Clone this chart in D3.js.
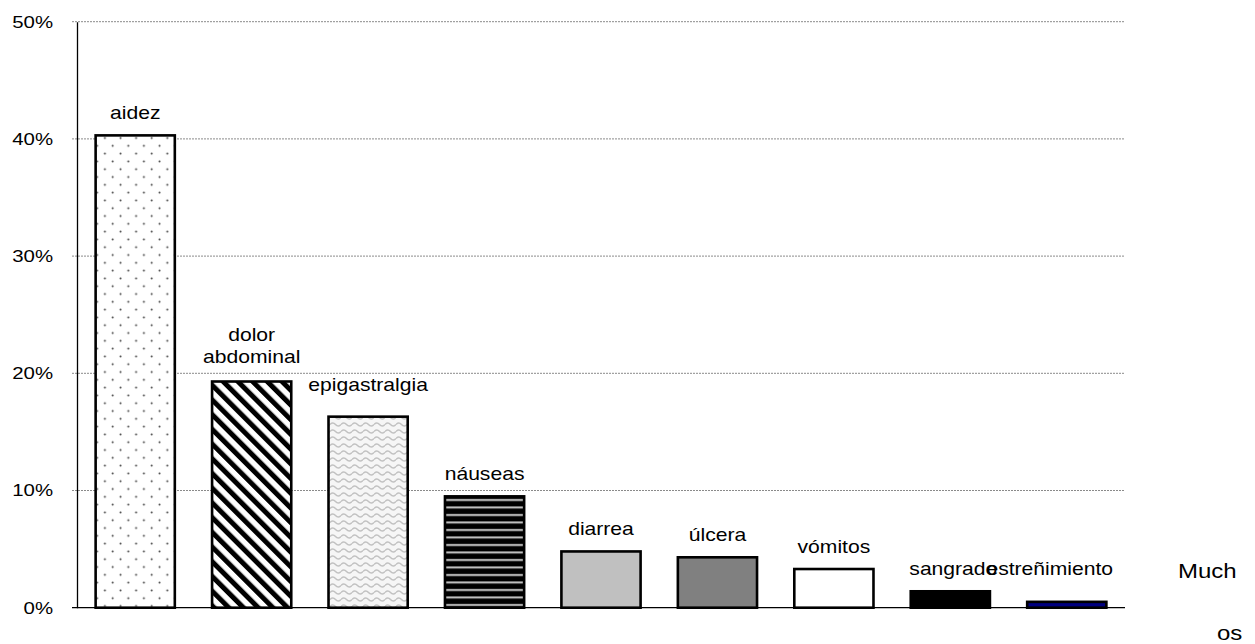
<!DOCTYPE html>
<html>
<head>
<meta charset="utf-8">
<script src="https://cdn.jsdelivr.net/npm/d3@7"></script>
<style>
  html, body { margin: 0; padding: 0; background: #fff; }
  svg { display: block; font-family: "Liberation Sans", Arial, sans-serif; }
</style>
</head>
<body>
<svg id="chart" width="1255" height="644"></svg>
<script>
// Symptom frequencies (share of patients)
const categories = ["aidez", "dolor abdominal", "epigastralgia", "náuseas", "diarrea",
                    "úlcera", "vómitos", "sangrado", "estreñimiento"];
const values = [0.403, 0.193, 0.163, 0.095, 0.048, 0.043, 0.033, 0.014, 0.005];
const yTicks = [0, 0.1, 0.2, 0.3, 0.4, 0.5];
const labelLines = [["aidez"], ["dolor", "abdominal"], ["epigastralgia"], ["náuseas"], ["diarrea"],
                    ["úlcera"], ["vómitos"], ["sangrado"], ["estreñimiento"]];
const sideTitle = ["Much", "os"];

const svg = d3.select("#chart");
const plotLeft = 77, plotRight = 1125, plotTop = 21.7, plotBottom = 607.7;
const STRETCH = 1.2; // glyphs are drawn slightly wide

const x = d3.scaleBand().domain(categories).range([plotLeft, plotRight])
  .paddingInner(0.32).paddingOuter(0.16);
const y = d3.scaleLinear().domain([0, 0.5]).range([plotBottom, plotTop]);

// ---- fill patterns ----
const defs = svg.append("defs");

const dots = defs.append("pattern").attr("id", "p-dots")
  .attr("patternUnits", "userSpaceOnUse").attr("width", 15.6).attr("height", 15.6)
  .attr("x", 0).attr("y", 2);
dots.append("rect").attr("width", 15.6).attr("height", 15.6).attr("fill", "#fff");
[[3.5, 3.5], [11.3, 11.3]].forEach(([cx, cy]) =>
  dots.append("circle").attr("cx", cx).attr("cy", cy).attr("r", 1).attr("fill", "#444"));

// stripes running top-left to bottom-right
const diag = defs.append("pattern").attr("id", "p-diag")
  .attr("patternUnits", "userSpaceOnUse").attr("width", 10.4).attr("height", 10.4)
  .attr("patternTransform", "rotate(-45)");
diag.append("rect").attr("width", 10.4).attr("height", 10.4).attr("fill", "#fff");
diag.append("rect").attr("width", 5).attr("height", 10.4).attr("fill", "#000");

const wave = defs.append("pattern").attr("id", "p-wave")
  .attr("patternUnits", "userSpaceOnUse").attr("width", 11).attr("height", 7);
wave.append("rect").attr("width", 11).attr("height", 7).attr("fill", "#f6f6f6");
wave.append("path").attr("d", "M0,4.5 Q2.75,1.5 5.5,4.5 T11,4.5")
  .attr("fill", "none").attr("stroke", "#c2c2c2").attr("stroke-width", 1.6);

const horiz = defs.append("pattern").attr("id", "p-horiz")
  .attr("patternUnits", "userSpaceOnUse").attr("width", 10).attr("height", 7.5)
  .attr("y", 1);
horiz.append("rect").attr("width", 10).attr("height", 7.5).attr("fill", "#000");
horiz.append("rect").attr("y", 3).attr("width", 10).attr("height", 2).attr("fill", "#c8c8c8");

const fills = ["url(#p-dots)", "url(#p-diag)", "url(#p-wave)", "url(#p-horiz)",
               "#c0c0c0", "#808080", "#ffffff", "#000000", "#000080"];

// ---- gridlines ----
svg.append("g").selectAll("line").data(yTicks.filter(t => t > 0)).join("line")
  .attr("x1", plotLeft - 5).attr("x2", plotRight)
  .attr("y1", d => y(d)).attr("y2", d => y(d))
  .attr("stroke", "#8a8a8a").attr("stroke-width", 1).attr("stroke-dasharray", "2,1");

// ---- y axis ----
const yAxis = svg.append("g").attr("transform", `translate(${plotLeft},0)`)
  .call(d3.axisLeft(y).tickValues(yTicks).tickFormat(d3.format(".0%"))
    .tickSizeInner(0).tickSizeOuter(0).tickPadding(20));
yAxis.select(".domain").attr("stroke", "#000").attr("stroke-width", 1.3);
yAxis.selectAll("text").attr("font-size", 17).attr("fill", "#000")
  .attr("font-family", "Liberation Sans, Arial, sans-serif")
  .attr("transform", `scale(${STRETCH},1)`);

// ---- bars ----
svg.append("g").selectAll("rect").data(categories).join("rect")
  .attr("x", d => x(d)).attr("width", x.bandwidth())
  .attr("y", (d, i) => y(values[i])).attr("height", (d, i) => y(0) - y(values[i]))
  .attr("fill", (d, i) => fills[i])
  .attr("stroke", "#000").attr("stroke-width", 2.6);

// x baseline
svg.append("line").attr("x1", plotLeft - 5).attr("x2", plotRight)
  .attr("y1", y(0)).attr("y2", y(0)).attr("stroke", "#000").attr("stroke-width", 1.3);

// ---- bar labels ----
const lift = { "epigastralgia": 10, "estreñimiento": 11, "dolor abdominal": 3 };
const shiftX = { "estreñimiento": -17, "sangrado": 3 };
const lineH = 22;
const lab = svg.append("g").attr("font-size", 17.6).attr("fill", "#000");
categories.forEach((c, i) => {
  const lines = labelLines[i];
  const cx = x(c) + x.bandwidth() / 2 + (shiftX[c] || 0);
  const base = y(values[i]) - 16 - (lift[c] || 0);
  lines.forEach((t, k) => {
    lab.append("text")
      .attr("transform", `translate(${cx},${base - (lines.length - 1 - k) * lineH}) scale(${STRETCH},1)`)
      .attr("text-anchor", "middle").text(t);
  });
});

// ---- side title ----
const st = svg.append("g").attr("font-size", 20.5).attr("fill", "#000");
st.append("text").attr("transform", `translate(1178,578) scale(1.17,1)`).text(sideTitle[0]);
st.append("text").attr("transform", `translate(1217,640) scale(1.17,1)`).text(sideTitle[1]);
</script>
</body>
</html>
